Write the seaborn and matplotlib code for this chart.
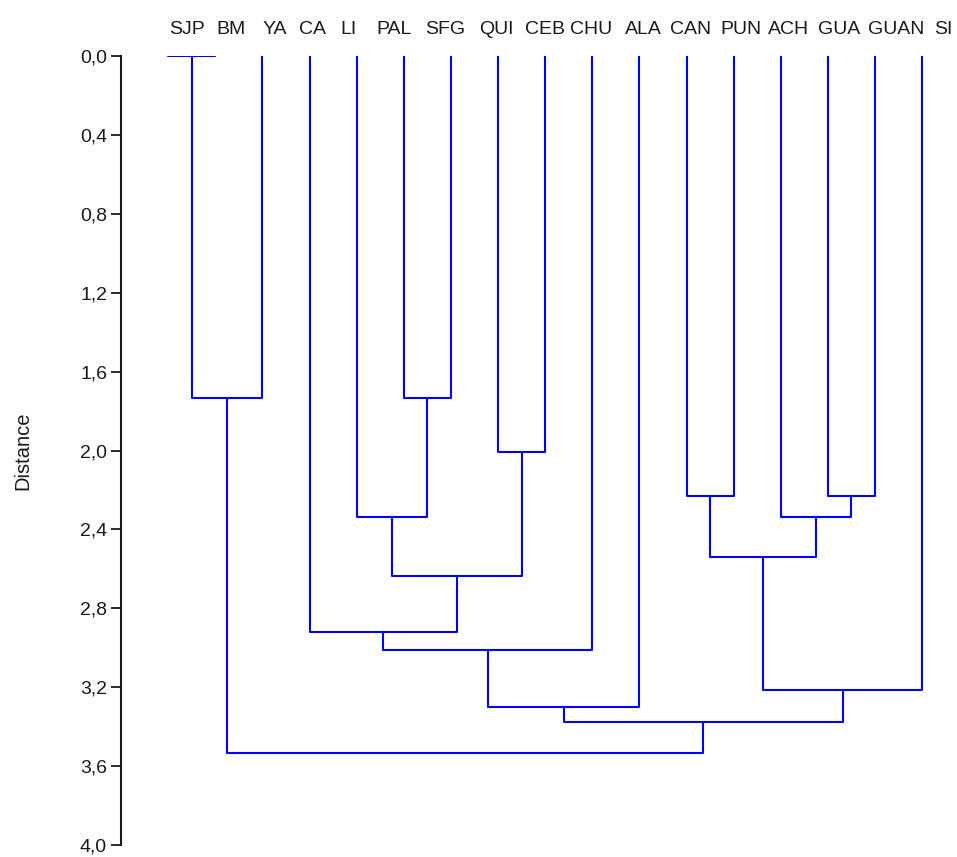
import numpy as np
import pandas as pd
import seaborn as sns
import matplotlib.pyplot as plt
from matplotlib.ticker import FuncFormatter
from matplotlib.transforms import ScaledTranslation

# 叶子顺序（从左到右）
leaves = ['SJP', 'BM', 'YA', 'CA', 'LI', 'PAL', 'SFG', 'QUI', 'CEB',
          'CHU', 'ALA', 'CAN', 'PUN', 'ACH', 'GUA', 'GUAN', 'SI']

# 合并步骤：左节点、右节点、距离（节点编号 >= 17 为前面合并得到的簇）
merge_left = [0, 5, 17, 7, 11, 14, 4, 13, 21, 23, 3, 27, 25, 28, 30, 19]
merge_right = [1, 6, 2, 8, 12, 15, 18, 22, 24, 20, 26, 9, 16, 10, 29, 31]
merge_dist = [0.0, 1.732, 1.732, 2.01, 2.232, 2.232, 2.338, 2.338,
              2.54, 2.638, 2.919, 3.013, 3.212, 3.298, 3.374, 3.535]

y_ticks = [0.0, 0.4, 0.8, 1.2, 1.6, 2.0, 2.4, 2.8, 3.2, 3.6, 4.0]

# 原图中顶部标签相对叶子位置的水平偏移（像素）
label_shift_px = [19, 16, 12, 3, -8, -10, -6, -2, 0, -1, 4, 4, 7, 8, 11, 21, 21]


def build_segments():
    """按合并顺序计算每个节点的位置，生成树状图的线段"""
    n = len(leaves)
    pos = {i: float(i) for i in range(n)}
    height = {i: 0.0 for i in range(n)}
    rows = []
    for k, (a, b, d) in enumerate(zip(merge_left, merge_right, merge_dist)):
        xs = [pos[a], pos[a], pos[b], pos[b]]
        ys = [height[a], d, d, height[b]]
        for order, (x, y) in enumerate(zip(xs, ys)):
            rows.append({'seg': k, 'order': order, 'x': x, 'y': y})
        pos[n + k] = (pos[a] + pos[b]) / 2
        height[n + k] = d
    return pd.DataFrame(rows)


def main():
    sns.set_theme(style='white')
    plt.rcParams['font.family'] = ['Liberation Sans', 'DejaVu Sans']

    fig = plt.figure(figsize=(9.57, 8.57), dpi=100)
    W, H = 957, 857
    # 底部略微上移，保证 "4,0" 不被裁掉
    ax = fig.add_axes([121 / W, 1 - 845 / H, (W - 121) / W, (845 - 56) / H])

    seg_df = build_segments()
    sns.lineplot(data=seg_df, x='x', y='y', units='seg', estimator=None,
                 sort=False, color='#0000ff', linewidth=1.5, ax=ax, legend=False)

    ax.set_xlim(-1.0, 16.74)
    ax.set_ylim(4.0, 0.0)

    # 顶部显示叶子标签
    ax.set_xticks(range(len(leaves)))
    ax.set_xticklabels(leaves, fontsize=14, color='#1a1a1a')
    ax.xaxis.tick_top()
    ax.tick_params(axis='x', length=0, pad=13)
    for lab, dx in zip(ax.get_xticklabels(), label_shift_px):
        lab.set_transform(lab.get_transform() + ScaledTranslation(dx / 100, 0, fig.dpi_scale_trans))

    ax.set_yticks(y_ticks)
    ax.yaxis.set_major_formatter(FuncFormatter(lambda v, _: f"{v:.1f}".replace('.', ',')))
    ax.tick_params(axis='y', left=True, length=7, width=1.3, color='#1a1a1a',
                   labelsize=14, labelcolor='#1a1a1a', pad=3)

    for side in ['top', 'right', 'bottom']:
        ax.spines[side].set_visible(False)
    ax.spines['left'].set_color('#1a1a1a')
    ax.spines['left'].set_linewidth(1.5)
    ax.spines['left'].set_bounds(0.0, 4.0)

    ax.set_xlabel('')
    ax.set_ylabel('Distance', fontsize=14.5, color='#1a1a1a')
    ax.yaxis.set_label_coords((32 - 121) / (W - 121), 0.5)

    fig.savefig('out.png', dpi=100)


if __name__ == '__main__':
    main()
